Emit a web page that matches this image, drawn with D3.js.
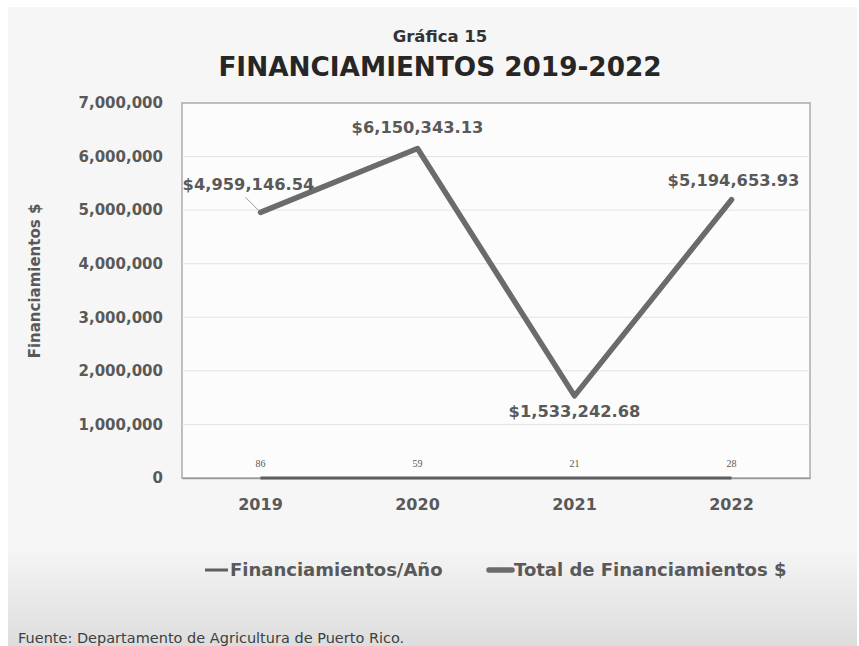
<!DOCTYPE html>
<meta charset="utf-8">
<style>
  body { margin: 0; background: #ffffff; }
  text { font-family: "DejaVu Sans", sans-serif; }
</style>
<script src="https://d3js.org/d3.v7.min.js"></script>
<div id="chart"></div>
<script>

// data
var years = ["2019", "2020", "2021", "2022"];
var totalFinanciamientos = [4959146.54, 6150343.13, 1533242.68, 5194653.93];
var financiamientosAno = [86, 59, 21, 28];
var yTicks = [0, 1000000, 2000000, 3000000, 4000000, 5000000, 6000000, 7000000];
var seriesNames = ["Financiamientos/Año", "Total de Financiamientos $"];

// label nudges for the money labels (dx, dy from the point)
var labelNudge = [[-12, -28], [0, -21], [0, 15], [2, -19]];

var W = 859, H = 646;
var plot = {left: 182, right: 810, top: 103, bottom: 478};

var svg = d3.select("#chart").append("svg")
    .attr("width", W)
    .attr("height", H);

var defs = svg.append("defs");
var grad = defs.append("linearGradient")
    .attr("id", "bottomFade")
    .attr("x1", 0).attr("y1", 0).attr("x2", 0).attr("y2", 1);
grad.append("stop").attr("offset", "0%").attr("stop-color", "#f4f4f4");
grad.append("stop").attr("offset", "100%").attr("stop-color", "#dddddd");

// panel background
svg.append("rect")
    .attr("x", 8).attr("y", 7)
    .attr("width", 849).attr("height", H - 7)
    .attr("fill", "#f6f6f6");
svg.append("rect")
    .attr("x", 8).attr("y", 552)
    .attr("width", 849).attr("height", H - 552)
    .attr("fill", "url(#bottomFade)");

// scales
var x = d3.scaleBand()
    .domain(years)
    .range([plot.left, plot.right]);
var y = d3.scaleLinear()
    .domain([0, 7000000])
    .range([plot.bottom, plot.top]);
var cx = function(d) { return x(d) + x.bandwidth() / 2; };

// plot area
svg.append("rect")
    .attr("x", plot.left).attr("y", plot.top)
    .attr("width", plot.right - plot.left)
    .attr("height", plot.bottom - plot.top)
    .attr("fill", "#fcfcfc")
    .attr("stroke", "#ababab")
    .attr("stroke-width", 1.5);

// gridlines
svg.append("g")
  .selectAll("line")
  .data(yTicks.slice(1, -1))
  .enter().append("line")
    .attr("x1", plot.left).attr("x2", plot.right)
    .attr("y1", function(d) { return y(d); })
    .attr("y2", function(d) { return y(d); })
    .attr("stroke", "#e3e3e3")
    .attr("stroke-width", 1);

// y axis
var yAxis = svg.append("g")
    .attr("transform", "translate(" + plot.left + ",0)")
    .call(d3.axisLeft(y).tickValues(yTicks).tickSize(0).tickPadding(19).tickFormat(d3.format(",")));
yAxis.select(".domain").remove();
yAxis.selectAll("text")
    .style("font-family", "'DejaVu Sans', sans-serif")
    .style("font-size", "15px")
    .style("font-weight", "700")
    .attr("fill", "#595959");

// x axis
var xAxis = svg.append("g")
    .attr("transform", "translate(0," + plot.bottom + ")")
    .call(d3.axisBottom(x).tickSize(0).tickPadding(21));
xAxis.select(".domain")
    .attr("stroke", "#9a9a9a")
    .attr("stroke-width", 1.5);
xAxis.selectAll("text")
    .style("font-family", "'DejaVu Sans', sans-serif")
    .style("font-size", "16px")
    .style("font-weight", "700")
    .attr("fill", "#595959");

// axis title
svg.append("text")
    .attr("transform", "translate(40,281) rotate(-90)")
    .attr("text-anchor", "middle")
    .style("font-size", "15px")
    .style("font-weight", "700")
    .attr("fill", "#595959")
    .text("Financiamientos $");

// count series (thin line)
var line = d3.line()
    .x(function(d, i) { return cx(years[i]); })
    .y(function(d) { return y(d); });

svg.append("path")
    .datum(financiamientosAno)
    .attr("d", line)
    .attr("fill", "none")
    .attr("stroke", "#5f5f5f")
    .attr("stroke-width", 3);

svg.selectAll(".countLabel")
  .data(financiamientosAno)
  .enter().append("text")
    .attr("class", "countLabel")
    .attr("x", function(d, i) { return cx(years[i]); })
    .attr("y", function(d) { return y(d) - 11; })
    .attr("text-anchor", "middle")
    .style("font-family", "'Liberation Serif', serif")
    .style("font-size", "10px")
    .attr("fill", "#595959")
    .text(function(d) { return d; });

// total series (thick line)
svg.append("path")
    .datum(totalFinanciamientos)
    .attr("d", line)
    .attr("fill", "none")
    .attr("stroke", "#6b6b6b")
    .attr("stroke-width", 5.5)
    .attr("stroke-linejoin", "round")
    .attr("stroke-linecap", "round");

// leader line for the first label
svg.append("line")
    .attr("x1", cx(years[0]) - 15).attr("y1", y(totalFinanciamientos[0]) - 15)
    .attr("x2", cx(years[0]) - 1).attr("y2", y(totalFinanciamientos[0]) - 1)
    .attr("stroke", "#9a9a9a")
    .attr("stroke-width", 1);

var money = function(v) { return "$" + d3.format(",.2f")(v); };
svg.selectAll(".moneyLabel")
  .data(totalFinanciamientos)
  .enter().append("text")
    .attr("class", "moneyLabel")
    .attr("x", function(d, i) { return cx(years[i]) + labelNudge[i][0]; })
    .attr("y", function(d, i) { return y(d) + labelNudge[i][1]; })
    .attr("dy", "0.35em")
    .attr("text-anchor", "middle")
    .style("font-size", "16.3px")
    .style("font-weight", "700")
    .attr("fill", "#595959")
    .text(money);

// titles
svg.append("text")
    .attr("x", 440).attr("y", 42)
    .attr("text-anchor", "middle")
    .style("font-size", "16.5px")
    .style("font-weight", "700")
    .attr("fill", "#333333")
    .text("Gráfica 15");
svg.append("text")
    .attr("x", 440).attr("y", 76)
    .attr("text-anchor", "middle")
    .style("font-size", "26.3px")
    .style("font-weight", "700")
    .attr("fill", "#262626")
    .text("FINANCIAMIENTOS 2019-2022");

// legend
var legend = svg.append("g");
var leg1 = legend.append("g").attr("transform", "translate(205,570)");
leg1.append("line")
    .attr("x1", 0).attr("x2", 23).attr("y1", 0).attr("y2", 0)
    .attr("stroke", "#5f5f5f").attr("stroke-width", 3);
leg1.append("text")
    .attr("x", 25).attr("dy", "0.35em")
    .style("font-size", "18px").style("font-weight", "700")
    .attr("fill", "#595959")
    .text(seriesNames[0]);
var leg2 = legend.append("g").attr("transform", "translate(489,570)");
leg2.append("line")
    .attr("x1", 0).attr("x2", 23).attr("y1", 0).attr("y2", 0)
    .attr("stroke", "#6b6b6b").attr("stroke-width", 5.5)
    .attr("stroke-linecap", "round");
leg2.append("text")
    .attr("x", 25).attr("dy", "0.35em")
    .style("font-size", "18px").style("font-weight", "700")
    .attr("fill", "#595959")
    .text(seriesNames[1]);

// source
svg.append("text")
    .attr("x", 18).attr("y", 643)
    .style("font-size", "14.5px")
    .style("font-weight", "400")
    .attr("fill", "#404040")
    .text("Fuente: Departamento de Agricultura de Puerto Rico.");

</script>
